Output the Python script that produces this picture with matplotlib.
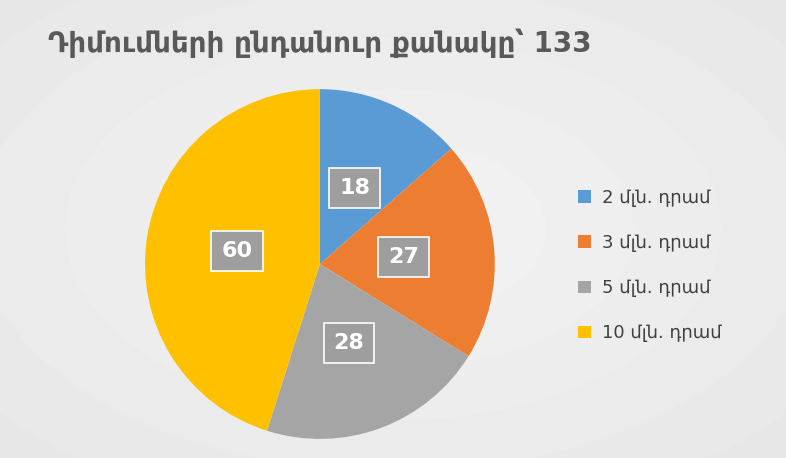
import numpy as np
import matplotlib.pyplot as plt
from matplotlib.patches import Patch

title = "Դիմումների ընդանուր քանակը՝ 133"
categories = ["2 մլն. դրամ", "3 մլն. դրամ", "5 մլն. դրամ", "10 մլն. դրամ"]
values = [18, 27, 28, 60]
colors = ["#5b9bd5", "#ed7d31", "#a5a5a5", "#ffc000"]

plt.rcParams['font.family'] = ['DejaVu Sans']

fig = plt.figure(figsize=(7.86, 4.58), dpi=100)

# soft radial background
bg = fig.add_axes([0, 0, 1, 1])
yy, xx = np.mgrid[0:458, 0:786]
d = np.sqrt(((xx - 393) / 786) ** 2 + ((yy - 229) / 458) ** 2)
bg.imshow(0.955 - 0.07 * d, cmap="gray", vmin=0, vmax=1, aspect="auto")
bg.axis("off")

ax = fig.add_axes([0.1845, 0.0415, 0.445, 0.764])
wedges, texts = ax.pie(values, colors=colors, startangle=90, counterclock=False,
                       labels=[str(v) for v in values], labeldistance=0.48,
                       wedgeprops=dict(edgecolor="none"))
for t in texts:
    t.set_color("white")
    t.set_fontsize(16)
    t.set_fontweight("bold")
    t.set_ha("center")
    t.set_va("center")
    t.set_bbox(dict(boxstyle="square,pad=0.45", facecolor="#9e9e9e", edgecolor="white", linewidth=1.2))
ax.set_xlim(-1, 1)
ax.set_ylim(-1, 1)
ax.set_aspect("equal")

fig.text(0.407, 0.905, title, ha="center", va="center", fontsize=20,
         fontweight="bold", color="#595959")

handles = [Patch(facecolor=c) for c in colors]
fig.legend(handles, categories, loc="center left", bbox_to_anchor=(0.715, 0.42),
           frameon=False, fontsize=13, labelcolor="#404040", handlelength=0.7,
           handleheight=0.7, labelspacing=1.5, handletextpad=0.6)

fig.savefig("out.png", dpi=100)
